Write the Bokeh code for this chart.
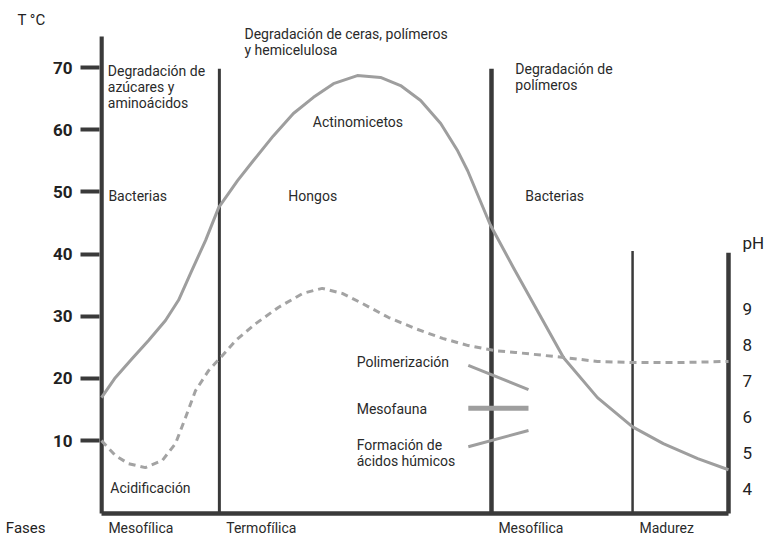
from bokeh.plotting import figure
from bokeh.models import Range1d, LinearAxis, FixedTicker
from bokeh.core.properties import value
from bokeh.embed import file_html
from bokeh.resources import INLINE

# ---- data (time axis in % of process, 0..100) ----
temp_x = [0, 2.2, 4.9, 7.5, 10.2, 12.3, 14.2, 16.6, 18.7, 21.7, 24.2, 27.4, 30.6, 33.8,
          37.0, 40.8, 44.5, 47.7, 50.9, 54.1, 56.8, 58.4, 62.0, 65.7, 69.5, 73.7, 79.1,
          84.7, 89.6, 95.1, 100]
temp_c = [16.9, 20.1, 23.2, 26.1, 29.3, 32.6, 36.9, 42.2, 47.5, 51.8, 55.0, 59.0, 62.6, 65.2,
          67.4, 68.7, 68.4, 67.1, 64.7, 61.0, 56.6, 53.4, 44.7, 37.8, 30.9, 23.3, 16.9,
          12.2, 9.5, 7.1, 5.3]

ph_x = [0, 2.2, 4.3, 7.0, 9.7, 11.8, 13.4, 15.0, 17.1, 19.0, 21.4, 24.6, 28.2, 32.1,
        35.2, 38.4, 41.6, 45.8, 50.1, 54.4, 58.5, 62.8, 66.0, 73.7, 79.1, 84.7, 92.3, 100]
ph_v = [5.33, 4.92, 4.69, 4.58, 4.78, 5.25, 5.97, 6.72, 7.28, 7.64, 8.11, 8.58, 9.03, 9.42,
        9.56, 9.42, 9.14, 8.75, 8.44, 8.17, 7.97, 7.83, 7.78, 7.64, 7.53, 7.50, 7.50, 7.53]

temp_ticks = [10, 20, 30, 40, 50, 60, 70]
ph_ticks = [4, 5, 6, 7, 8, 9]

phase_bounds = [0, 18.8, 62.2, 84.7, 100]
phase_names = ["Mesofílica", "Termofílica", "Mesofílica", "Madurez"]

# trend indicators (Polimerización, Mesofauna, Formación de ácidos húmicos)
ind_x0 = [58.5, 58.5, 58.5]
ind_x1 = [68.1, 68.1, 68.1]
ind_y0 = [22.1, 15.2, 9.0]
ind_y1 = [18.2, 15.2, 11.6]
ind_w = [3, 5, 3]

DARK = "#3a3a3a"
CURVE = "#9e9e9e"
TXT = "#2a2a2a"
FONT = "Roboto"

# positions of the axis titles (in axis units)
T_TITLE_Y = 77.6
FASES_Y = -4.15
PH_TITLE_Y = 10.83

p = figure(width=770, height=536, output_backend="svg", toolbar_location=None,
           x_range=Range1d(-0.319, 100.478), y_range=Range1d(-5.44, 80.78),
           min_border_left=99, min_border_right=39, min_border_top=0, min_border_bottom=0,
           x_axis_location=None, y_axis_location=None)
p.extra_y_ranges = {"ph": Range1d(2.667, 17.556)}
p.outline_line_color = None
p.grid.grid_line_color = None
p.background_fill_color = "white"

# left temperature axis (ticks + labels)
ax = LinearAxis(ticker=FixedTicker(ticks=temp_ticks))
ax.axis_line_color = None
ax.major_tick_out = 19
ax.major_tick_in = 0
ax.major_tick_line_width = 4
ax.major_tick_line_color = DARK
ax.minor_tick_line_color = None
ax.major_label_text_font = FONT
ax.major_label_text_font_style = "bold"
ax.major_label_text_font_size = "17px"
ax.major_label_text_color = "#222222"
ax.major_label_standoff = 8
p.add_layout(ax, "left")

# outer left axis carrying the "T °C" and "Fases" titles
ax2 = LinearAxis(ticker=FixedTicker(ticks=[T_TITLE_Y, FASES_Y]),
                 major_label_overrides={T_TITLE_Y: "T °C", FASES_Y: "Fases"})
ax2.axis_line_color = None
ax2.major_tick_line_color = None
ax2.major_tick_out = 0
ax2.major_tick_in = 0
ax2.minor_tick_line_color = None
ax2.major_label_text_font = FONT
ax2.major_label_text_font_size = "15px"
ax2.major_label_text_color = "#222222"
ax2.major_label_standoff = 4
p.add_layout(ax2, "left")

# right pH axis (labels only, plus the "pH" title)
axr = LinearAxis(y_range_name="ph", ticker=FixedTicker(ticks=ph_ticks + [PH_TITLE_Y]),
                 major_label_overrides={PH_TITLE_Y: "pH"})
axr.axis_line_color = None
axr.major_tick_out = 0
axr.major_tick_in = 0
axr.major_tick_line_color = None
axr.minor_tick_line_color = None
axr.major_label_text_font = FONT
axr.major_label_text_font_size = "17px"
axr.major_label_text_color = "#222222"
axr.major_label_standoff = 11
p.add_layout(axr, "right")

# structural lines
p.segment(x0=[0], y0=[-1.75], x1=[0], y1=[75.0], line_color=DARK, line_width=4.5)
p.segment(x0=[0], y0=[-1.75], x1=[100], y1=[-1.75], line_color=DARK, line_width=4.5)
p.segment(x0=[phase_bounds[1]], y0=[-1.75], x1=[phase_bounds[1]], y1=[69.8], line_color=DARK, line_width=3)
p.segment(x0=[phase_bounds[2]], y0=[-1.75], x1=[phase_bounds[2]], y1=[69.8], line_color=DARK, line_width=4.5)
p.segment(x0=[phase_bounds[3]], y0=[-1.75], x1=[phase_bounds[3]], y1=[40.5], line_color=DARK, line_width=2.5)
p.segment(x0=[phase_bounds[4]], y0=[-1.75], x1=[phase_bounds[4]], y1=[40.2], line_color=DARK, line_width=4.5)

# curves
p.line(temp_x, temp_c, line_color=CURVE, line_width=3, line_join="round")
p.line(ph_x, ph_v, y_range_name="ph", line_color="#a3a3a3", line_width=3, line_dash="7 5")

# indicators
p.segment(x0=ind_x0, y0=ind_y0, x1=ind_x1, y1=ind_y1, line_color=CURVE, line_width=ind_w)

# texts inside the frame
def txt(x, y, s, size="14px", baseline="middle", lh=1.1):
    p.text(x=[x], y=[y], text=[s], text_font=value(FONT), text_font_size=size,
           text_color=TXT, text_baseline=baseline, text_align="left", text_line_height=lh)

txt(1.0, 70.8, "Degradación de\nazúcares y\naminoácidos", baseline="top", lh=1.02)
txt(22.8, 76.7, "Degradación de ceras, polímeros\ny hemicelulosa", baseline="top", lh=1.0)
txt(66.0, 71.0, "Degradación de\npolímeros", baseline="top", lh=1.0)
txt(1.1, 49.4, "Bacterias")
txt(29.8, 49.4, "Hongos")
txt(33.7, 61.3, "Actinomicetos")
txt(67.6, 49.4, "Bacterias")
txt(40.7, 22.7, "Polimerización")
txt(40.7, 15.0, "Mesofauna")
txt(40.7, 10.5, "Formación de\nácidos húmicos", baseline="top", lh=1.0)
txt(1.4, 2.3, "Acidificación")

for b, name in zip(phase_bounds[:-1], phase_names):
    txt(b + 1.1, FASES_Y, name)

open("out.html", "w").write(file_html(p, INLINE))
